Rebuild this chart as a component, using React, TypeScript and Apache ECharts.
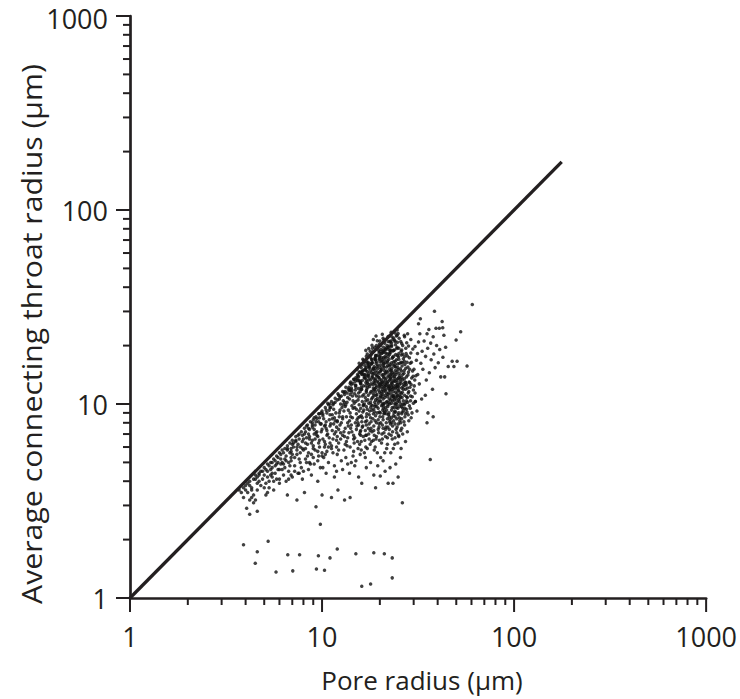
import React, { useEffect, useRef } from "react";
import * as echarts from "echarts";

// Axis tick values (log axes)
const majorTicks = [1, 10, 100, 1000];
const minorTicks = [2, 3, 4, 5, 6, 7, 8, 9, 20, 30, 40, 50, 60, 70, 80, 90, 200, 300, 400, 500, 600, 700, 800, 900];

// 1:1 reference line
const oneToOneLine = [[1, 1], [177, 177]];

// Pore radius vs average connecting throat radius (µm)
const nearLinePoints = [
  [3.7,3.6],[3.8,3.5],[3.9,3.7],[3.9,3.3],[4.0,3.8],[4.1,3.9],[4.1,3.5],[4.2,3.2],[4.2,4.0],[4.3,3.7],[4.4,4.1],[4.4,3.4],[4.5,4.3],[4.6,3.9],[4.6,4.2],[4.7,4.4],[4.8,3.8],[4.8,4.5],[4.9,4.1],[5.0,4.7],[5.0,4.3],[5.1,3.9],[5.2,4.9],[5.2,4.5],[5.3,4.0],[5.4,5.0],[5.4,4.6],[5.5,4.2],[5.6,5.2],[5.7,4.8],[5.7,4.4],[5.8,5.4],[5.9,5.0],[6.0,5.6],[6.0,4.6],[6.1,5.2],[6.2,5.8],[6.3,4.9],[6.4,5.9],[6.5,5.4],[6.6,6.1],[6.7,5.0],[6.8,6.3],[6.9,5.7],[7.0,6.5],[7.1,6.0],[7.2,5.3],[7.3,6.8],[7.5,6.2],[7.6,7.0],[7.7,5.6],[7.8,7.2],[8.0,6.6],[8.1,7.5],[8.2,5.9],[8.4,7.8],[8.5,7.0],[8.7,8.1],[8.8,6.3],[9.0,8.3],[9.1,7.4],[9.3,8.6],[9.5,6.8],[9.6,8.9],[9.8,7.9],[10,9.2],[10.2,8.4],[10.4,9.6],[10.6,7.3],[10.8,9.9],[11,8.8],[11.2,10.3],[11.5,9.4],[11.7,10.7],[12,8.1],[12.2,11.1],[12.5,10],[12.8,11.6],[13,9.2],[13.3,12.2],[13.6,10.8],[14,12.8],[14.3,11.5],[14.7,13.4],[15,12.2],[15.4,14],[15.8,12.9],[16.2,14.7],[16.6,13.6],[17,15.4],[17.5,14.3],[18,16.1],[18.5,15.2],[19,16.9],[19.5,15.9],[20,17.8],[20.5,16.5],[21,18.5],[21.5,17.3],[22,19.2],[22.5,18],[23,20.1],[23.5,18.8],[24,21],[24.6,19.6],[25.2,21.8],[26,20.5],[26.8,22.6],
  [6.1,4.9],[6.4,5.2],[6.9,5.3],[7.1,6.3],[7.4,5.8],[7.9,6.4],[8.3,6.7],[8.6,7.4],[9.2,7.8],[9.6,8.1],[10.1,8.7],[10.5,8.1],[10.9,9.3],[11.4,9.9],[11.8,9.0],[12.3,10.6],[12.7,9.6],[13.1,11.2],[13.5,10.2],[13.9,11.7],[14.4,11.0],[14.9,12.5],[15.6,13.2],[16.1,11.9],[16.7,14.2],[7.5,6.9],[8.9,8.0],[10.7,10.1],[12.1,11.3],[5.8,4.9],[5.5,4.4],[5.2,4.2],[4.7,4.0],[4.3,3.6],
  [4.0,3.6],[4.2,3.8],[4.5,4.1],[4.7,4.3],[4.9,4.5],[5.1,4.6],[5.3,4.8],[5.5,5.0],[5.7,5.1],[5.9,5.3],[6.1,5.5],[6.3,5.6],[6.6,5.9],[6.8,5.6],[7.0,6.2],[7.3,6.4],[7.6,6.6],[7.9,6.9],[8.2,7.2],[8.5,7.5],[8.9,7.8],[9.3,8.1],[9.7,8.5],[10.1,8.9],[10.5,9.3],[11.0,9.6],[11.5,10.1],[12.0,10.5],[12.6,11.0],[13.2,11.6],[13.8,12.2],[14.5,12.8],[15.2,13.5],[16.0,14.3],[4.6,3.6],[5.0,3.7],[5.5,4.7],[6.2,5.0],[6.9,5.9],[7.7,6.0],[8.6,6.6],[9.4,7.2],[10.3,7.7],[11.3,8.4],[12.3,9.0],[13.3,9.9],[14.5,10.4],[15.5,11.4],
  [12.4,10.9],[13.0,11.5],[13.7,11.9],[14.2,12.6],[14.9,13.1],[15.5,13.8],[16.2,14.2],[16.9,14.9],[17.6,15.7],[18.3,16.3],[19.0,17.4],[19.8,17.0],[20.6,18.3],[21.4,19.1],[22.2,19.6],[23.0,20.7],[23.9,21.3],[12.9,10.4],[14.0,11.8],[15.9,12.8],[17.3,13.9],[18.9,15.3],[20.5,17.3],[22.7,19.0],[24.7,20.8],[11.0,10.0],[11.7,10.2],[9.9,9.0],[9.1,8.5],[8.3,7.7],
  [14.1,13.0],[15.0,13.7],[15.8,14.6],[16.6,15.0],[17.4,16.2],[18.2,16.9],[19.1,17.8],[20.0,18.6],[20.9,19.6],[21.8,20.0],[22.7,21.1],[23.6,21.9],[24.4,22.4]
];

const bandPoints = [
  [5.1,3.4],[5.3,3.7],[5.6,3.6],[5.8,4.1],[6.0,3.9],[6.3,4.3],[6.5,4.0],[6.7,4.5],[7.0,4.2],[7.2,4.8],[7.5,4.4],[7.7,5.0],[8.0,4.5],[8.2,5.2],[8.5,5.6],[8.7,4.9],[9.0,5.3],[9.2,5.8],[9.5,5.1],[9.7,6.0],[10.0,5.4],[10.3,6.4],[10.6,5.7],[10.9,6.7],[11.2,6.1],[11.6,7.0],[11.9,6.5],[5.4,4.3],[5.9,4.6],[6.4,4.7],[6.9,5.1],[7.4,5.5],[7.9,5.9],[8.4,6.2],[8.9,6.5],[9.4,6.9],[9.9,7.2],[10.5,7.5],[11.1,7.9],[11.7,8.2],[12.3,8.6],[6.7,4.1],[7.6,4.4],[8.6,5.0],[9.6,5.4],[10.8,6.0]
];

const corePoints = [
  [17.5,19.3],[18.2,20.1],[18.8,19.6],[19.4,21.2],[19.9,20.4],[20.3,19.1],[20.8,21.8],[21.2,20.6],[21.7,19.5],[22.1,22.3],[22.6,20.9],[23.0,19.8],[23.4,21.5],[24.1,20.2],[24.6,22.6],[25.1,19.4],[25.7,21.0],[26.3,20.0],[19.1,22.4],[20.6,22.9],[22.9,23.4],[21.4,19.2],[23.8,19.0],[18.5,21.5],[24.9,23.1],[26.9,22.2],[27.6,20.7],
  [15.2,15.1],[15.6,16.2],[16.0,15.4],[16.3,17.0],[16.7,15.8],[17.0,16.6],[17.2,18.1],[17.6,15.3],[17.9,17.4],[18.1,16.1],[18.4,18.6],[18.7,15.6],[19.0,17.8],[19.2,16.5],[19.5,15.2],[19.8,18.3],[20.0,17.1],[20.2,15.9],[20.5,16.8],[20.7,18.8],[21.0,15.4],[21.3,17.6],[21.5,16.3],[21.8,18.1],[22.0,15.8],[22.3,17.0],[22.6,16.0],[22.8,18.5],[23.1,15.3],[23.3,17.4],[23.6,16.5],[23.9,15.6],[24.2,18.0],[24.4,16.9],[24.8,15.4],[25.0,17.5],[25.4,16.2],[25.8,18.7],[26.1,15.7],[26.5,17.1],[27.0,16.0],[27.4,18.2],[28.0,15.5],[28.5,17.3],[29.2,16.4],[30.1,15.1],[16.9,18.9],[19.7,18.9],[21.9,16.7],[23.5,18.9],[20.9,16.1],[22.5,15.1],[18.9,16.9],[24.7,17.8],[26.8,16.6],[17.4,16.4],[25.6,15.2],[27.8,17.7],[29.0,18.3],[31.0,16.8],
  [14.2,12.1],[14.6,13.4],[15.0,12.5],[15.3,14.2],[15.5,12.0],[15.8,13.1],[16.1,14.6],[16.4,12.4],[16.6,13.8],[16.9,12.9],[17.1,14.1],[17.3,12.2],[17.6,13.5],[17.8,14.8],[18.0,12.7],[18.3,13.9],[18.5,12.1],[18.7,14.4],[18.9,13.2],[19.1,12.5],[19.3,14.0],[19.6,12.9],[19.8,13.7],[20.0,12.2],[20.1,14.7],[20.4,13.3],[20.6,12.6],[20.8,14.2],[21.0,13.0],[21.2,12.3],[21.4,14.5],[21.6,13.6],[21.9,12.8],[22.1,14.0],[22.3,12.4],[22.5,13.3],[22.8,14.8],[23.0,12.9],[23.2,13.9],[23.5,12.1],[23.7,14.3],[24.0,13.1],[24.3,12.5],[24.5,14.6],[24.8,13.5],[25.1,12.2],[25.4,14.0],[25.7,12.8],[26.0,13.7],[26.4,12.3],[26.7,14.4],[27.1,13.0],[27.5,12.6],[28.0,14.1],[28.6,12.9],[29.3,13.6],[30.2,12.4],[31.5,14.2],[17.0,13.3],[18.6,13.0],[19.9,12.6],[21.1,14.9],[22.7,13.6],[24.1,14.9],[25.9,14.8],[19.4,14.6],[20.9,13.8],[23.4,13.0],[16.3,14.9],[15.9,12.7],[18.1,14.5],[22.2,12.1],[24.6,12.9],[26.2,13.3],[27.8,12.1],[20.3,12.9],[21.5,12.5],[23.9,13.6],[19.0,13.5],[17.5,12.6],
  [13.1,10.2],[13.5,11.4],[13.9,10.6],[14.3,11.8],[14.7,10.1],[15.1,11.0],[15.4,10.5],[15.8,11.6],[16.2,10.3],[16.5,11.2],[16.8,10.8],[17.1,11.9],[17.5,10.1],[17.8,11.4],[18.1,10.6],[18.4,11.7],[18.8,10.2],[19.1,11.1],[19.4,10.7],[19.7,11.8],[20.0,10.4],[20.3,11.3],[20.6,10.0],[20.9,11.6],[21.2,10.8],[21.5,11.9],[21.8,10.3],[22.1,11.2],[22.4,10.6],[22.7,11.7],[23.0,10.1],[23.4,11.0],[23.8,10.5],[24.2,11.5],[24.6,10.2],[25.0,11.8],[25.4,10.7],[25.9,11.3],[26.4,10.0],[26.9,11.1],[27.5,10.4],[28.3,11.6],[29.5,10.9],[30.6,10.3],[16.0,11.9],[18.6,11.0],[21.0,10.1],[22.9,10.9],[19.9,11.5],[17.3,10.5],[24.4,10.9],[15.6,10.9],[21.7,11.4],[23.2,11.9],[26.1,10.8],[14.0,11.2],[20.5,10.9],
  [12.0,8.2],[12.4,9.3],[12.8,8.6],[13.2,9.7],[13.6,8.0],[14.0,9.0],[14.4,8.5],[14.8,9.6],[15.2,8.3],[15.6,9.2],[16.0,8.7],[16.4,9.8],[16.8,8.1],[17.2,9.4],[17.6,8.8],[18.0,9.9],[18.4,8.4],[18.8,9.1],[19.2,8.0],[19.6,9.5],[20.0,8.6],[20.4,9.8],[20.8,8.3],[21.2,9.2],[21.6,8.9],[22.0,9.7],[22.5,8.1],[23.0,9.3],[23.5,8.7],[24.0,9.9],[24.5,8.4],[25.1,9.0],[25.7,8.0],[26.3,9.5],[27.0,8.6],[17.9,8.5],[19.9,9.1],[21.9,8.4],[23.7,9.6],[15.9,9.5],[13.7,9.3],[26.0,8.9],[18.9,9.7],[20.9,9.5],
  [24.3,7.4],[25.3,8.5],[26.1,9.1],[26.9,7.8],[27.5,9.4],[28.3,8.2],[28.9,10.4],[29.4,9.0],[27.8,10.8],[26.5,11.9],[27.3,12.9],[28.1,11.4],[29.1,12.6],[29.8,13.9],[28.6,15.1],[27.7,16.4],[26.9,17.6],[25.9,17.9],[24.8,16.1],[25.5,13.5],[26.3,14.2],[24.7,12.3],[25.7,10.0],[24.4,9.6],[23.6,10.9],[26.0,9.7],[27.1,10.1],[28.5,9.8],[29.9,10.1],[30.5,11.4]
];

const coreDensePoints = [
  [16.3,9.1],[17.7,9.2],[19.4,9.0],[20.7,9.3],[22.3,9.0],[23.9,9.2],[18.6,9.4],[21.4,9.6],[24.8,9.5],[17.0,9.7],
  [16.6,10.0],[17.9,10.2],[18.9,9.9],[19.6,10.1],[20.2,10.3],[21.0,10.0],[21.6,10.2],[22.5,10.0],[23.3,10.4],[24.0,10.1],[25.3,10.3],[16.9,10.4],[19.0,10.5],[20.8,10.6],[22.8,10.5],[24.3,10.6],[18.3,10.8],[20.1,10.8],[21.9,10.9],[23.6,10.8],[25.6,10.9],
  [16.2,11.0],[17.4,11.1],[18.5,11.3],[19.3,11.2],[20.1,11.0],[20.7,11.2],[21.4,11.1],[22.2,11.4],[22.9,11.3],[23.6,11.1],[24.5,11.3],[25.2,11.1],[17.0,11.5],[18.0,11.6],[19.0,11.6],[20.4,11.6],[21.3,11.7],[22.4,11.8],[23.5,11.6],[24.9,11.7],[26.2,11.5],[18.7,11.9],[20.6,11.9],[22.6,12.0],[24.1,12.0],
  [16.0,12.2],[16.9,12.4],[17.7,12.3],[18.4,12.6],[19.2,12.2],[19.8,12.4],[20.5,12.3],[21.3,12.6],[22.0,12.3],[22.8,12.5],[23.6,12.4],[24.4,12.2],[25.3,12.6],[26.6,12.7],[17.2,12.8],[18.8,12.8],[20.2,12.7],[21.7,12.9],[23.1,12.7],[24.7,12.6],
  [16.2,13.2],[17.3,13.1],[17.9,13.3],[18.6,13.5],[19.4,13.1],[20.0,13.4],[20.7,13.0],[21.4,13.3],[22.1,13.1],[22.9,13.4],[23.7,13.2],[24.5,13.3],[25.5,13.1],[16.8,13.6],[18.2,13.7],[19.6,13.8],[21.0,13.6],[22.4,13.8],[23.8,13.9],[25.1,13.7],[26.8,13.5],
  [16.5,14.2],[17.5,14.0],[18.4,14.3],[19.1,14.1],[19.8,14.4],[20.5,14.1],[21.3,14.3],[22.0,14.6],[22.7,14.2],[23.4,14.5],[24.3,14.2],[25.2,14.4],[17.2,14.7],[18.9,14.8],[20.3,14.9],[21.7,14.8],[23.0,14.9],[24.9,15.0],
  [16.8,15.2],[17.7,15.5],[18.5,15.3],[19.4,15.6],[20.1,15.4],[20.9,15.7],[21.7,15.5],[22.5,15.7],[23.4,15.9],[24.2,15.5],[17.3,16.1],[18.2,16.4],[19.1,16.2],[20.0,16.5],[21.0,16.2],[22.0,16.4],[23.0,16.3],[24.0,16.6],[18.8,17.2],[19.9,17.5],[20.9,17.3],[22.1,17.6],[23.2,17.2],[21.5,18.3],[20.4,18.2],[22.6,18.9],
  [14.5,9.5],[15.0,10.3],[14.8,11.3],[15.3,13.2],[15.6,14.6],[16.1,16.0],[16.5,16.8],[17.0,17.6],[17.8,18.7],[18.3,19.4],[19.2,20.0],[20.0,21.1],[21.0,21.4],[22.1,21.0],[23.1,22.2],[24.0,23.2],[26.0,19.0],[27.3,19.4],[28.2,19.9],[28.8,16.2],[29.6,14.8],[30.4,13.3],[28.9,11.0],[27.9,10.2],[27.2,11.9],[26.8,14.9],[27.5,13.8],[28.4,13.0],[25.8,16.4],[26.3,18.1],[24.5,19.3],[22.4,19.9],[20.2,20.0],[18.0,18.0],[16.7,16.4],[26.0,12.1],[25.0,10.5],[27.0,9.5],[28.1,8.8],[26.6,9.2],[23.7,9.0],[21.1,9.0],[18.2,9.3],[15.6,9.9],[14.9,11.8],[22.3,10.2],[19.5,10.4],[24.7,11.0],[23.0,12.2],[21.0,12.1],[18.9,12.0],[17.0,11.7],[20.4,15.1],[22.9,14.3],[18.3,15.0],[24.0,16.0],[21.1,16.8],[19.3,17.8],[22.4,18.3],[25.1,17.0],
  [14.3,9.8],[15.1,9.4],[15.7,8.6],[16.5,9.3],[17.1,8.9],[17.9,9.6],[18.5,8.9],[19.3,9.7],[20.1,9.0],[20.8,9.8],[21.7,9.3],[22.4,8.6],[23.2,9.6],[24.2,9.1],[25.4,9.7],[26.8,9.9],[15.4,8.0],[16.2,7.6],[17.1,8.2],[18.0,7.5],[18.9,8.2],[19.8,7.9],[20.7,8.6],[21.5,7.6],[22.2,8.8],[23.1,8.0],[24.0,8.6],[25.0,7.9],[26.0,8.4],[27.2,8.9],[15.9,7.3],[16.9,6.9],[17.8,7.3],[18.7,6.9],[19.6,7.4],[20.5,7.0],[21.4,7.4],[22.3,7.0],[23.3,7.7],[24.5,7.1],[25.7,7.3],[14.6,6.6],[15.7,6.2],[17.6,6.6],[19.9,6.5],[21.9,6.7],[23.9,6.2],[25.1,6.8],[16.4,9.9],[18.3,9.8],[22.0,9.9],[24.6,9.9],[27.6,10.9],[26.5,10.4],[25.5,11.5],[27.0,12.5],[28.7,12.2],[28.2,14.6],[27.3,15.3],[26.2,16.3],[25.1,18.2],[23.6,17.6],[21.0,18.8],[19.6,19.6],[18.1,17.0],[17.4,15.7]
];

const middlePoints = [
  [6.2,4.6],[6.5,5.1],[6.8,4.8],[7.0,5.5],[7.2,4.5],[7.4,6.0],[7.6,5.2],[7.8,4.7],[8.0,5.8],[8.2,6.3],[8.3,5.0],[8.5,4.6],[8.6,6.8],[8.8,5.5],[9.0,6.1],[9.1,4.9],[9.3,7.1],[9.5,5.7],[9.7,6.5],[9.8,4.7],[10.0,7.4],[10.2,5.3],[10.4,6.2],[10.6,6.9],[10.8,5.0],[11.0,7.7],[11.2,5.9],[11.4,6.6],[11.6,4.8],[11.8,7.2],[12.0,5.5],[12.2,6.3],[12.4,7.8],[12.6,5.1],[12.8,6.9],[13.0,5.8],[13.2,7.5],[13.4,6.4],[13.6,4.9],[13.8,7.1],[14.0,6.0],[14.2,7.8],[14.5,5.4],[14.8,6.7],[15.1,7.4],[15.4,5.9],[15.7,7.0],[16.0,6.4],[16.3,7.7],[16.6,5.6],[17.0,6.9],[17.4,7.5],[17.8,6.2],[18.2,7.2],[18.7,5.8],[19.2,6.8],[19.8,7.6],[20.4,6.3],[21.0,7.1],[21.7,5.9],[22.4,7.4],[23.2,6.6],[24.0,7.9],[25.0,6.9],[26.0,7.5],[27.2,6.4],[9.9,7.9],[10.9,8.3],[11.5,7.9],[12.6,8.0],[8.9,7.6],[8.1,7.0],[7.3,6.5],[6.6,5.8],[10.3,6.0],[11.9,6.0],[13.3,5.3],[15.0,5.1],[16.9,6.0],[18.5,6.5],[20.2,5.3],[22.8,5.6],[14.1,8.6],[16.1,8.1],[9.4,8.4],[10.6,9.0],[11.3,8.8],[12.9,9.9],[11.1,9.6],[9.7,8.9],
  [8.4,5.4],[9.0,5.9],[9.6,6.3],[10.1,6.6],[10.7,7.0],[11.3,7.3],[11.9,7.6],[12.5,7.1],[13.1,6.8],[13.7,7.7],[14.3,7.2],[14.9,8.0],[15.5,7.8],[16.2,8.5],[9.2,6.6],[10.0,5.6],[11.0,6.3],[12.2,5.8],[13.5,6.1],[14.7,6.3],[15.9,6.9],[16.8,7.3],[17.6,7.9],[18.6,7.7],[19.6,8.3],[20.6,7.8],[21.6,8.0],[22.7,7.9],[23.6,8.2],[12.8,8.4],[11.6,8.5],[10.4,7.8],[9.1,7.0],[13.9,8.2],[15.1,8.9],
  [12.5,6.6],[13.0,7.2],[13.6,6.7],[14.1,7.5],[14.6,6.9],[15.2,7.7],[15.8,7.2],[16.4,6.8],[17.0,7.8],[17.5,7.0],[18.0,8.1],[18.6,7.3],[19.1,6.6],[19.7,7.1],[20.2,8.0],[20.8,7.5],[21.4,6.8],[22.0,7.6],[22.6,8.3],[23.3,7.2],[24.0,6.7],[24.6,7.6],[25.4,8.2],[26.3,7.0],[17.2,5.9],[18.1,6.4],[19.4,5.6],[20.6,6.6],[21.9,6.2],[23.5,5.9],[24.8,6.3],[16.0,5.8],[14.6,5.7],[13.2,6.2],[12.0,6.8],[11.4,5.6],[10.4,5.5],[15.3,6.4],[16.7,6.5],[18.9,6.0],[21.2,5.6],[22.9,6.9],[25.8,5.9],[26.7,8.1],[27.8,7.2],[19.0,8.7],[21.0,8.9],[23.0,8.5],[24.9,8.8],[17.0,8.6],[15.4,8.5],[13.4,8.6],[12.2,7.4]
];

const lowerPoints = [
  [7.4,3.2],[8.1,3.5],[6.6,3.4],[9.3,2.95],[9.8,2.4],[10.0,3.4],[11.2,3.3],[12.1,3.6],[13.1,3.2],[14.0,3.3],[16.1,3.9],[15.5,4.2],[18.6,4.3],[20.1,4.25],[21.3,4.5],[22.1,3.9],[23.4,3.9],[26.2,3.1],[4.05,2.9],[4.2,2.7],[4.6,2.8],[4.4,3.1],[4.3,3.3],[4.5,3.2],[5.2,3.5],[5.6,4.0],[6.0,4.1],[6.9,4.3],[7.9,4.1],[8.8,4.3],[9.5,4.0],[10.5,4.4],[11.6,4.2],[12.8,4.6],[13.9,4.4],[14.8,4.8],[17.0,4.7],[17.9,5.0],[19.5,4.8],[20.8,5.1],[22.6,4.7],[24.2,4.9],[25.6,5.3],[24.9,4.2],[19.0,3.7],[16.8,5.3],[15.8,5.5],[14.2,5.0],[11.9,4.5],[10.1,4.7],
  [3.9,1.88],[5.24,1.96],[4.6,1.73],[4.49,1.51],[5.76,1.36],[6.63,1.67],[7.64,1.67],[7.04,1.38],[9.57,1.65],[9.35,1.41],[10.3,1.39],[11.0,1.61],[12.0,1.79],[15.0,1.69],[18.6,1.71],[21.1,1.69],[23.2,1.61],[23.2,1.27],[16.1,1.15],[17.9,1.18]
];

const rightPoints = [
  [60.6,32.6],[38.5,30.1],[52.7,23.6],[49.9,21.4],[56.9,15.7],[44.2,11.3],[41.5,13.8],[43.5,13.8],[37.6,11.9],[34.5,11.1],[30.6,10.3],[35.6,9.0],[37.9,8.6],[35.2,8.0],[47.6,16.6],[50.5,16.6],[45.4,15.6],[48.6,15.6],[32.5,27.5],[31.8,25.9],[36.0,24.2],[39.2,24.6],[40.8,24.6],[42.5,24.7],[43.1,22.6],[35.2,23.0],[37.9,22.2],[32.3,23.0],[27.9,23.0],[24.6,24.1],[36.6,5.17],[42.2,26.6],
  [29.0,21.5],[30.5,19.8],[31.8,20.9],[33.2,18.7],[34.0,21.1],[35.5,19.4],[36.8,20.6],[38.2,18.1],[39.5,20.0],[41.0,19.1],[42.6,17.4],[44.0,19.6],[40.3,16.3],[37.0,16.9],[34.6,17.6],[32.7,16.2],[31.4,18.2],[29.7,19.2],[33.5,15.1],[36.2,14.5],[38.8,15.4],[30.8,14.0],[32.1,12.7],[34.9,13.3],[29.9,11.8],[28.8,9.5],[31.2,9.2],[33.0,10.6],[27.7,9.1],[29.1,8.5]
];

const INK = "#231f20";
const FONT = "'Open Sans', 'Noto Sans', sans-serif";

export default function App() {
  const ref = useRef<HTMLDivElement>(null);
  useEffect(() => {
    if (!ref.current) return;
    const chart = echarts.init(ref.current, undefined, { renderer: "svg" });
    const allPoints = [...nearLinePoints, ...bandPoints, ...corePoints, ...coreDensePoints, ...middlePoints, ...lowerPoints, ...rightPoints];
    const xTick = (len: number) => (params: any, api: any) => {
      const p = api.coord([api.value(0), 1]);
      return { type: "line", shape: { x1: p[0], y1: p[1], x2: p[0], y2: p[1] + len }, style: { stroke: INK, lineWidth: 2 } };
    };
    const yTick = (len: number) => (params: any, api: any) => {
      const p = api.coord([1, api.value(1)]);
      return { type: "line", shape: { x1: p[0] - len, y1: p[1], x2: p[0], y2: p[1] }, style: { stroke: INK, lineWidth: 2 } };
    };
    const fmt = (v: number) => String(Math.round(v));
    const yFmt = (v: number) => {
      const s = String(Math.round(v));
      return Math.round(v) === 1000 ? `{top|${s}}` : s;
    };
    const axisCommon = {
      type: "log",
      logBase: 10,
      min: 1,
      max: 1000,
      axisLine: { show: true, lineStyle: { color: INK, width: 2.7 } },
      axisTick: { show: false },
      minorTick: { show: false },
      splitLine: { show: false },
    };
    chart.setOption({
      animation: false,
      backgroundColor: "#ffffff",
      grid: { left: 130, right: 26, top: 15, bottom: 101, containLabel: false },
      xAxis: {
        ...axisCommon,
        axisLabel: { color: INK, fontSize: 27, lineHeight: 26, fontFamily: FONT, margin: 25, formatter: fmt },
      },
      yAxis: {
        ...axisCommon,
        axisLabel: {
          color: INK,
          fontSize: 27,
          lineHeight: 26,
          fontFamily: FONT,
          margin: 22,
          formatter: yFmt,
          rich: { top: { fontSize: 27, lineHeight: 26, fontFamily: FONT, color: INK, padding: [5, 0, 0, 0] } },
        },
      },
      graphic: [
        {
          type: "text",
          x: 422,
          y: 680,
          style: { text: "Pore radius (μm)", fill: INK, font: `26px ${FONT}`, textAlign: "center", textVerticalAlign: "middle" },
        },
        {
          type: "text",
          x: 31,
          y: 334,
          rotation: Math.PI / 2,
          scaleX: 1.12,
          style: { text: "Average connecting throat radius (μm)", fill: INK, font: `27px ${FONT}`, textAlign: "center", textVerticalAlign: "middle" },
        },
      ],
      series: [
        {
          type: "scatter",
          data: allPoints,
          symbol: "circle",
          symbolSize: 3.5,
          itemStyle: { color: "#111" },
          z: 2,
        },
        {
          type: "line",
          data: oneToOneLine,
          symbol: "none",
          lineStyle: { color: INK, width: 3.3 },
          z: 3,
        },
        { type: "custom", data: majorTicks.map((v) => [v, 1]), renderItem: xTick(14), clip: false, z: 4 },
        { type: "custom", data: minorTicks.map((v) => [v, 1]), renderItem: xTick(7), clip: false, z: 4 },
        { type: "custom", data: majorTicks.map((v) => [1, v]), renderItem: yTick(14), clip: false, z: 4 },
        { type: "custom", data: minorTicks.map((v) => [1, v]), renderItem: yTick(7), clip: false, z: 4 },
      ],
    });
    return () => chart.dispose();
  }, []);
  return <div ref={ref} style={{ width: 740, height: 699, position: "absolute", left: 0, top: 0 }} />;
}
